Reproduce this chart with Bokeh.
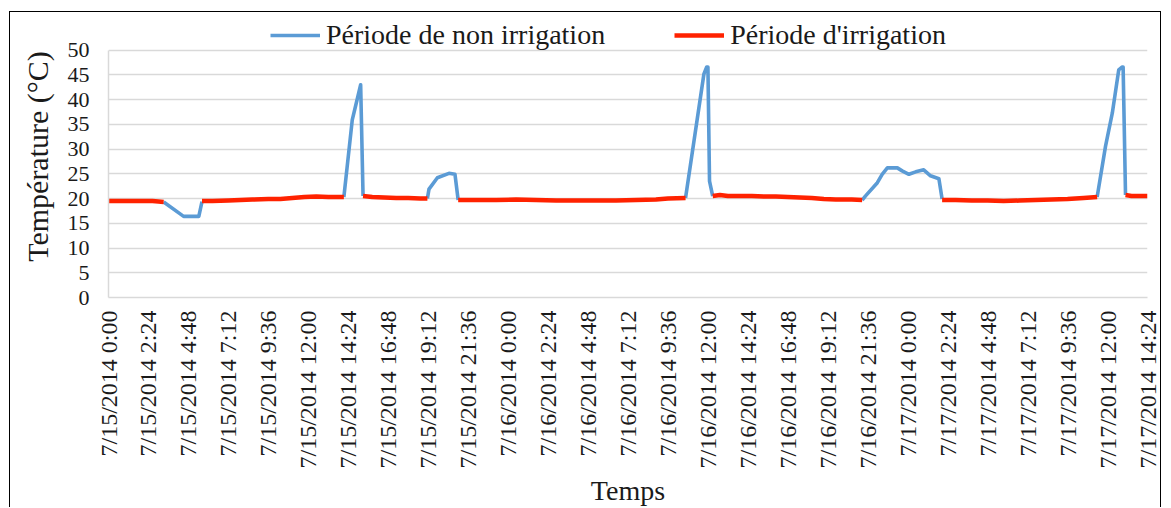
import math
from bokeh.plotting import figure
from bokeh.models import FixedTicker, Legend, LegendItem, ColumnDataSource
from bokeh.embed import file_html
from bokeh.resources import INLINE

# ---- data (x in days since 7/15/2014 0:00) ----
nan = float("nan")

# Période d'irrigation (red), segments separated by NaN
irr_t = [0.0, 0.03, 0.06, 0.09, 0.11, 0.125, 0.138, nan,
         0.234, 0.26, 0.30, 0.33, 0.36, 0.40, 0.43, 0.46, 0.49, 0.52, 0.55, 0.589, nan,
         0.637, 0.66, 0.69, 0.72, 0.75, 0.78, 0.798, nan,
         0.875, 0.92, 0.97, 1.02, 1.07, 1.12, 1.17, 1.22, 1.27, 1.32, 1.37, 1.40, 1.444, nan,
         1.512, 1.53, 1.55, 1.58, 1.61, 1.64, 1.67, 1.70, 1.73, 1.76, 1.79, 1.82, 1.86, 1.886, nan,
         2.086, 2.12, 2.16, 2.20, 2.24, 2.28, 2.32, 2.36, 2.40, 2.44, 2.474, nan,
         2.545, 2.56, 2.60]
irr_v = [19.5, 19.5, 19.5, 19.5, 19.5, 19.4, 19.3, nan,
         19.5, 19.5, 19.6, 19.7, 19.8, 19.9, 19.9, 20.1, 20.3, 20.4, 20.3, 20.3, nan,
         20.5, 20.3, 20.2, 20.1, 20.1, 20.0, 20.0, nan,
         19.7, 19.7, 19.7, 19.8, 19.7, 19.6, 19.6, 19.6, 19.6, 19.7, 19.8, 20.0, 20.1, nan,
         20.5, 20.7, 20.5, 20.5, 20.5, 20.4, 20.4, 20.3, 20.2, 20.1, 19.9, 19.8, 19.8, 19.7, nan,
         19.7, 19.7, 19.6, 19.6, 19.5, 19.6, 19.7, 19.8, 19.9, 20.1, 20.3, nan,
         20.7, 20.5, 20.5]

# Période de non irrigation (blue)
non_t = [0.138, 0.188, 0.226, 0.234, nan,
         0.589, 0.610, 0.631, 0.637, nan,
         0.798, 0.802, 0.823, 0.852, 0.867, 0.875, nan,
         1.444, 1.490, 1.497, 1.500, 1.504, 1.512, nan,
         1.886, 1.894, 1.924, 1.936, 1.949, 1.974, 1.986, 2.003, 2.020, 2.040, 2.057, 2.078, 2.086, nan,
         2.474, 2.495, 2.512, 2.528, 2.537, 2.539, 2.545]
non_v = [19.3, 16.4, 16.4, 19.4, nan,
         20.3, 35.9, 43.0, 20.5, nan,
         20.0, 21.9, 24.2, 25.1, 24.9, 19.7, nan,
         20.1, 45.2, 46.6, 46.6, 23.5, 20.5, nan,
         19.7, 20.5, 23.2, 24.9, 26.2, 26.2, 25.6, 24.9, 25.4, 25.8, 24.6, 24.0, 19.9, nan,
         20.3, 30.6, 37.3, 46.0, 46.6, 46.6, 20.7]

tick_labels = ["7/15/2014 0:00", "7/15/2014 2:24", "7/15/2014 4:48", "7/15/2014 7:12",
               "7/15/2014 9:36", "7/15/2014 12:00", "7/15/2014 14:24", "7/15/2014 16:48",
               "7/15/2014 19:12", "7/15/2014 21:36", "7/16/2014 0:00", "7/16/2014 2:24",
               "7/16/2014 4:48", "7/16/2014 7:12", "7/16/2014 9:36", "7/16/2014 12:00",
               "7/16/2014 14:24", "7/16/2014 16:48", "7/16/2014 19:12", "7/16/2014 21:36",
               "7/17/2014 0:00", "7/17/2014 2:24", "7/17/2014 4:48", "7/17/2014 7:12",
               "7/17/2014 9:36", "7/17/2014 12:00", "7/17/2014 14:24"]
y_ticks = [0, 5, 10, 15, 20, 25, 30, 35, 40, 45, 50]

FONT = "Liberation Serif"
BLUE = "#5B9BD5"
RED = "#FF2200"
TXT = "#1a1a1a"

tick_pos = [round(i * 0.1, 4) for i in range(len(tick_labels))]

# frame extends above 50 to hold the legend; axis and grid stop at 50
p = figure(width=1152, height=496, output_backend="svg", toolbar_location=None,
           x_range=(tick_pos[0], tick_pos[-1]), y_range=(0, 57.0))
p.styles = {"border": "1px solid black", "border-bottom": "none",
            "margin-left": "9px", "margin-top": "11px"}
p.min_border_left = 98
p.min_border_right = 15
p.min_border_top = 3
p.min_border_bottom = 209
p.outline_line_color = None
p.background_fill_color = "white"
p.border_fill_color = "white"

# grid
p.xgrid.grid_line_color = None
p.ygrid.grid_line_color = "#D9D9D9"
p.ygrid.grid_line_width = 1.5
p.ygrid.ticker = FixedTicker(ticks=y_ticks)

# y axis
p.yaxis.ticker = FixedTicker(ticks=y_ticks)
p.yaxis.bounds = (0, 50)
p.yaxis.axis_line_color = "#D9D9D9"
p.yaxis.axis_line_width = 1.5
p.yaxis.major_tick_line_color = None
p.yaxis.minor_tick_line_color = None
p.yaxis.major_tick_out = 0
p.yaxis.major_tick_in = 0
p.yaxis.major_label_text_font = FONT
p.yaxis.major_label_text_font_size = "22px"
p.yaxis.major_label_text_color = TXT
p.yaxis.major_label_standoff = 19
p.yaxis.axis_label = "Température (°C)"
p.yaxis.axis_label_text_font = FONT
p.yaxis.axis_label_text_font_size = "30px"
p.yaxis.axis_label_text_font_style = "normal"
p.yaxis.axis_label_text_color = TXT
p.yaxis.axis_label_standoff = 11

# x axis
p.xaxis.ticker = FixedTicker(ticks=tick_pos)
p.xaxis.major_label_overrides = {tp: lab for tp, lab in zip(tick_pos, tick_labels)}
p.xaxis.major_label_orientation = math.pi / 2
p.xaxis.axis_line_color = "#D9D9D9"
p.xaxis.axis_line_width = 1.5
p.xaxis.major_tick_line_color = None
p.xaxis.minor_tick_line_color = None
p.xaxis.major_tick_out = 0
p.xaxis.major_tick_in = 0
p.xaxis.major_label_text_font = FONT
p.xaxis.major_label_text_font_size = "24px"
p.xaxis.major_label_text_color = TXT
p.xaxis.major_label_standoff = 13
p.xaxis.axis_label = "Temps"
p.xaxis.axis_label_text_font = FONT
p.xaxis.axis_label_text_font_size = "28px"
p.xaxis.axis_label_text_font_style = "normal"
p.xaxis.axis_label_text_color = TXT
p.xaxis.axis_label_standoff = 3

src_non = ColumnDataSource(dict(t=non_t, v=non_v))
src_irr = ColumnDataSource(dict(t=irr_t, v=irr_v))
r_non = p.line("t", "v", source=src_non, line_color=BLUE, line_width=3.6, line_join="round")
r_irr = p.line("t", "v", source=src_irr, line_color=RED, line_width=4.5, line_join="round")

legend = Legend(items=[LegendItem(label="Période de non irrigation", renderers=[r_non]),
                       LegendItem(label="Période d'irrigation", renderers=[r_irr])],
                orientation="horizontal", location=(162, 246))
legend.label_text_font = FONT
legend.label_text_font_size = "28px"
legend.label_text_color = TXT
legend.glyph_width = 50
legend.glyph_height = 30
legend.label_height = 30
legend.label_standoff = 6
legend.spacing = 69
legend.padding = 0
legend.margin = 0
legend.border_line_color = None
legend.background_fill_alpha = 0
p.add_layout(legend, "center")

open("out.html", "w").write(file_html(p, INLINE))
